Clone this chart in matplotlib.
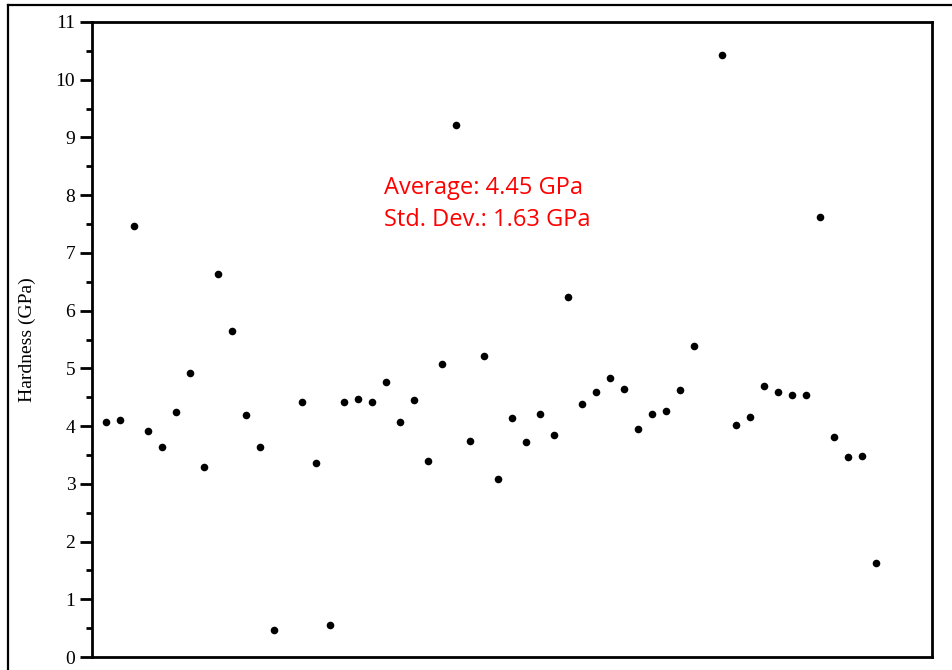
import matplotlib.pyplot as plt
from matplotlib.lines import Line2D
from matplotlib.ticker import MultipleLocator

# indentation positions (slots 14 and 44 are empty in the original)
indent = list(range(1, 14)) + list(range(15, 44)) + list(range(45, 57))
hardness = [4.07, 4.11, 7.47, 3.91, 3.64, 4.24, 4.92, 3.29, 6.63, 5.65, 4.19, 3.64, 0.47,
            4.42, 3.36, 0.55, 4.42, 4.47, 4.42, 4.76, 4.07, 4.45, 3.39, 5.08, 9.22, 3.74,
            5.21, 3.08, 4.14, 3.72, 4.21, 3.85, 6.24, 4.38, 4.59, 4.83, 4.64, 3.95, 4.21,
            4.26, 4.62, 5.39,
            10.43, 4.02, 4.16, 4.69, 4.59, 4.54, 4.54, 7.62, 3.81, 3.46, 3.48, 1.63]
stats_text = ['Average: 4.45 GPa', 'Std. Dev.: 1.63 GPa']

fig = plt.figure(figsize=(9.52, 6.70), dpi=100)
ax = fig.add_axes([92 / 952, 1 - 657 / 670, 840 / 952, 635 / 670])

ax.scatter(indent, hardness, s=30, color='black', zorder=3, linewidths=0)

ax.set_xlim(0, 60)
ax.set_ylim(0, 11)
ax.set_xticks([])
ax.yaxis.set_major_locator(MultipleLocator(1))
ax.yaxis.set_minor_locator(MultipleLocator(0.5))
ax.tick_params(axis='y', which='major', direction='out', length=9, width=2,
               labelsize=14, pad=3)
ax.tick_params(axis='y', which='minor', direction='out', length=4, width=2)
for lab in ax.get_yticklabels():
    lab.set_family('Liberation Serif')
for s in ax.spines.values():
    s.set_linewidth(2)

ax.set_ylabel('Hardness (GPa)', family='Liberation Serif', fontsize=14, labelpad=14)

ax.text(0.348, 0.713, stats_text[0] + '\n' + stats_text[1], transform=ax.transAxes,
        color='red', fontsize=17, family='Open Sans', linespacing=1.45, va='center')

# outer frame (cropped at right and bottom)
fig.add_artist(Line2D([8 / 952, 8 / 952], [0, 1 - 5 / 670], transform=fig.transFigure,
                      color='black', lw=1.6))
fig.add_artist(Line2D([8 / 952, 1], [1 - 5 / 670, 1 - 5 / 670], transform=fig.transFigure,
                      color='black', lw=1.6))

fig.savefig('out.png', dpi=100)
